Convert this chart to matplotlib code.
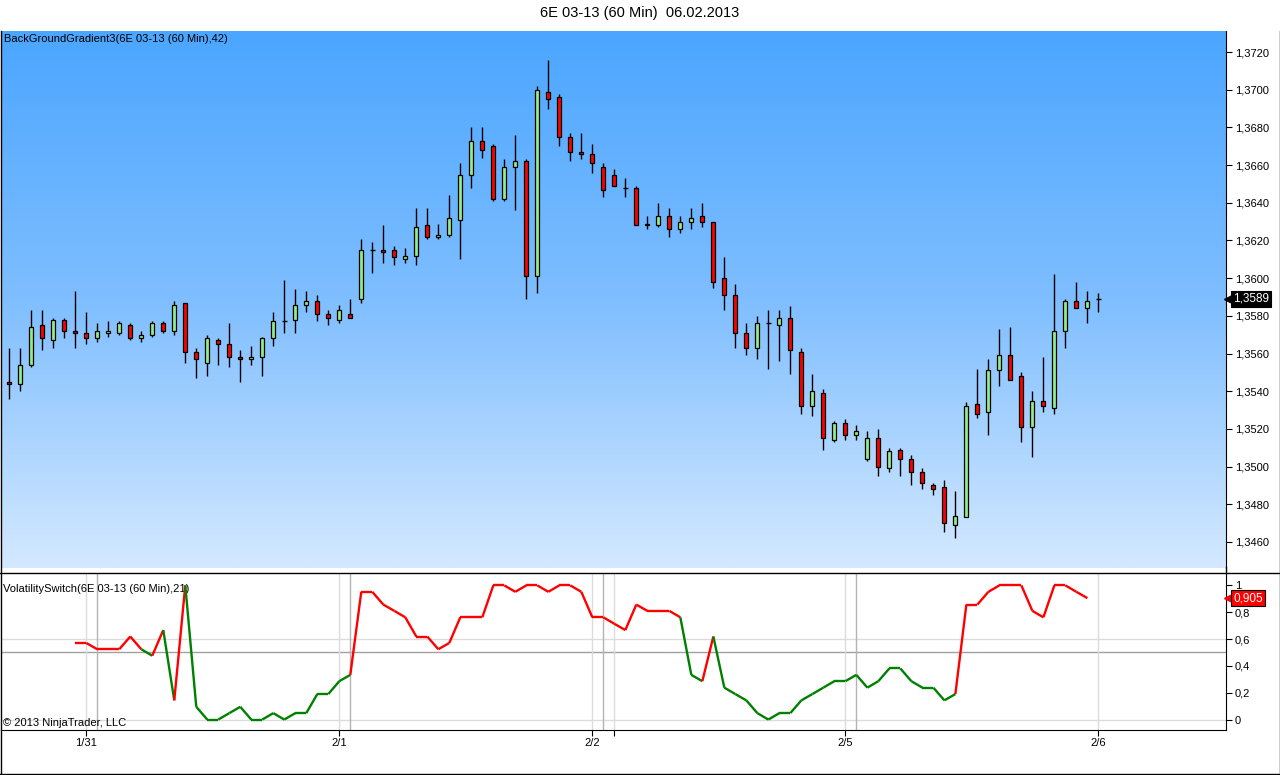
import numpy as np
import matplotlib
matplotlib.use("Agg")
from matplotlib import pyplot as plt
from matplotlib import transforms
from matplotlib.collections import LineCollection
from matplotlib.colors import LinearSegmentedColormap
from matplotlib.lines import Line2D

plt.rcParams['font.family'] = ['Liberation Sans', 'DejaVu Sans']

# 6E 03-13, 60 min bars (OHLC)
opens = [1.3545, 1.3544, 1.3554, 1.3575, 1.3567, 1.3578, 1.3572, 1.3571, 1.3568, 1.3571,
         1.3571, 1.3575, 1.3568, 1.3570, 1.3576, 1.3572, 1.3587, 1.3561, 1.3555, 1.3567,
         1.3565, 1.3558, 1.3557, 1.3558, 1.3568, 1.3577, 1.3578, 1.3586, 1.3588, 1.3581,
         1.3578, 1.3581, 1.3589, 1.3615, 1.3615, 1.3615, 1.3610, 1.3612, 1.3628, 1.3622,
         1.3623, 1.3631, 1.3655, 1.3673, 1.3670, 1.3642, 1.3659, 1.3662, 1.3601, 1.3699,
         1.3696, 1.3675, 1.3667, 1.3666, 1.3659, 1.3655, 1.3648, 1.3648, 1.3629, 1.3628,
         1.3633, 1.3626, 1.3630, 1.3633, 1.3630, 1.3600, 1.3591, 1.3571, 1.3563, 1.3576,
         1.3575, 1.3579, 1.3561, 1.3532, 1.3539, 1.3514, 1.3523, 1.3517, 1.3504, 1.3515,
         1.3499, 1.3509, 1.3504, 1.3497, 1.3490, 1.3489, 1.3469, 1.3473, 1.3533, 1.3529,
         1.3551, 1.3559, 1.3548, 1.3521, 1.3535, 1.3531, 1.3572, 1.3588, 1.3584, 1.3589]
highs = [1.3563, 1.3563, 1.3583, 1.3583, 1.3579, 1.3579, 1.3593, 1.3582, 1.3576, 1.3577,
         1.3577, 1.3576, 1.3572, 1.3577, 1.3577, 1.3588, 1.3587, 1.3563, 1.3570, 1.3568,
         1.3576, 1.3562, 1.3564, 1.3569, 1.3582, 1.3599, 1.3594, 1.3593, 1.3591, 1.3583,
         1.3586, 1.3589, 1.3621, 1.3619, 1.3628, 1.3617, 1.3616, 1.3637, 1.3637, 1.3629,
         1.3644, 1.3661, 1.3680, 1.3680, 1.3671, 1.3663, 1.3676, 1.3663, 1.3702, 1.3716,
         1.3698, 1.3677, 1.3677, 1.3671, 1.3661, 1.3658, 1.3653, 1.3649, 1.3633, 1.3640,
         1.3637, 1.3633, 1.3637, 1.3640, 1.3630, 1.3611, 1.3597, 1.3576, 1.3580, 1.3583,
         1.3583, 1.3585, 1.3563, 1.3549, 1.3541, 1.3524, 1.3525, 1.3522, 1.3519, 1.3520,
         1.3510, 1.3510, 1.3506, 1.3499, 1.3491, 1.3493, 1.3487, 1.3534, 1.3552, 1.3557,
         1.3573, 1.3574, 1.3550, 1.3540, 1.3558, 1.3602, 1.3589, 1.3598, 1.3593, 1.3592]
lows = [1.3536, 1.3540, 1.3553, 1.3562, 1.3563, 1.3568, 1.3563, 1.3565, 1.3566, 1.3569,
        1.3570, 1.3567, 1.3566, 1.3569, 1.3571, 1.3570, 1.3555, 1.3547, 1.3548, 1.3554,
        1.3553, 1.3545, 1.3554, 1.3548, 1.3564, 1.3571, 1.3571, 1.3582, 1.3577, 1.3575,
        1.3576, 1.3579, 1.3587, 1.3603, 1.3608, 1.3607, 1.3608, 1.3607, 1.3621, 1.3621,
        1.3622, 1.3610, 1.3648, 1.3664, 1.3641, 1.3641, 1.3636, 1.3589, 1.3592, 1.3690,
        1.3670, 1.3662, 1.3663, 1.3656, 1.3643, 1.3649, 1.3643, 1.3628, 1.3626, 1.3627,
        1.3622, 1.3624, 1.3626, 1.3627, 1.3595, 1.3583, 1.3563, 1.3559, 1.3557, 1.3552,
        1.3556, 1.3549, 1.3528, 1.3527, 1.3509, 1.3513, 1.3514, 1.3514, 1.3503, 1.3495,
        1.3497, 1.3495, 1.3490, 1.3488, 1.3485, 1.3465, 1.3462, 1.3473, 1.3526, 1.3517,
        1.3543, 1.3546, 1.3513, 1.3505, 1.3529, 1.3528, 1.3563, 1.3584, 1.3576, 1.3582]
closes = [1.3544, 1.3554, 1.3574, 1.3568, 1.3578, 1.3572, 1.3571, 1.3568, 1.3572, 1.3572,
          1.3576, 1.3568, 1.3570, 1.3576, 1.3572, 1.3586, 1.3561, 1.3557, 1.3568, 1.3565,
          1.3558, 1.3557, 1.3558, 1.3568, 1.3577, 1.3577, 1.3586, 1.3588, 1.3581, 1.3579,
          1.3583, 1.3579, 1.3615, 1.3615, 1.3614, 1.3611, 1.3612, 1.3627, 1.3622, 1.3623,
          1.3632, 1.3655, 1.3673, 1.3668, 1.3642, 1.3659, 1.3662, 1.3601, 1.3700, 1.3695,
          1.3675, 1.3667, 1.3666, 1.3661, 1.3647, 1.3649, 1.3648, 1.3628, 1.3628, 1.3633,
          1.3626, 1.3630, 1.3632, 1.3630, 1.3598, 1.3591, 1.3571, 1.3563, 1.3576, 1.3576,
          1.3579, 1.3562, 1.3532, 1.3540, 1.3515, 1.3523, 1.3517, 1.3519, 1.3515, 1.3500,
          1.3508, 1.3504, 1.3497, 1.3491, 1.3488, 1.3470, 1.3474, 1.3532, 1.3528, 1.3551,
          1.3559, 1.3546, 1.3521, 1.3535, 1.3532, 1.3572, 1.3588, 1.3584, 1.3588, 1.3589]

# VolatilitySwitch(21), starts at bar 6
vs_start = 6
vs_values = [0.571, 0.571, 0.524, 0.524, 0.524, 0.619, 0.524, 0.476, 0.667, 0.143,
             1.000, 0.095, 0.000, 0.000, 0.048, 0.095, 0.000, 0.000, 0.048, 0.000,
             0.048, 0.048, 0.190, 0.190, 0.286, 0.333, 0.952, 0.952, 0.857, 0.810,
             0.762, 0.619, 0.619, 0.524, 0.571, 0.762, 0.762, 0.762, 1.000, 1.000,
             0.952, 1.000, 1.000, 0.952, 1.000, 1.000, 0.952, 0.762, 0.762, 0.714,
             0.667, 0.857, 0.810, 0.810, 0.810, 0.762, 0.333, 0.286, 0.619, 0.238,
             0.190, 0.143, 0.048, 0.000, 0.048, 0.048, 0.143, 0.190, 0.238, 0.286,
             0.286, 0.333, 0.238, 0.286, 0.381, 0.381, 0.286, 0.238, 0.238, 0.143,
             0.190, 0.857, 0.857, 0.952, 1.000, 1.000, 1.000, 0.810, 0.762, 1.000,
             1.000, 0.952, 0.905]

date_pos = [7, 30, 53, 76, 99]
date_labels = ['1/31', '2/1', '2/2', '2/5', '2/6']
session_pos = [8, 31, 54, 77]
weekend_pos = [55]
price_ticks = [1.3460, 1.3480, 1.3500, 1.3520, 1.3540, 1.3560, 1.3580,
               1.3600, 1.3620, 1.3640, 1.3660, 1.3680, 1.3700, 1.3720]
vs_ticks = [0, 0.2, 0.4, 0.6, 0.8, 1]
last_price = 1.3589
last_vs = 0.905

W, H = 1280, 775
fig = plt.figure(figsize=(W / 100, H / 100), dpi=100)


def rect(x0, y0, x1, y1):
    # pixel box (top-left origin) -> figure fraction
    return [x0 / W, 1 - y1 / H, (x1 - x0) / W, (y1 - y0) / H]


def fline(x0, y0, x1, y1, **kw):
    fig.add_artist(Line2D([x0 / W, x1 / W], [1 - y0 / H, 1 - y1 / H],
                          transform=fig.transFigure, **kw))


ax = fig.add_axes(rect(1, 31, 1226, 567.5))
ax2 = fig.add_axes(rect(1, 572.5, 1226, 729.5))

# gradient background
bg = LinearSegmentedColormap.from_list('bg', ['#4ba6ff', '#7fbeff', '#d4e9ff'])
ax.imshow(np.linspace(0, 1, 256).reshape(-1, 1), cmap=bg, aspect='auto',
          extent=[0, 1, 0, 1], transform=ax.transAxes, zorder=0)

x = np.arange(len(opens))
o = np.array(opens)
h = np.array(highs)
l = np.array(lows)
c = np.array(closes)

ax.vlines(x, l, h, color='black', lw=1.0, zorder=2)
up = c > o
dn = c < o
dj = c == o
ax.bar(x[up], (c - o)[up], bottom=o[up], width=0.36, color='#90ee90',
       edgecolor='black', lw=0.9, zorder=3)
ax.bar(x[dn], (o - c)[dn], bottom=c[dn], width=0.36, color='#ff0000',
       edgecolor='black', lw=0.9, zorder=3)
ax.hlines(c[dj], x[dj] - 0.25, x[dj] + 0.25, color='black', lw=1.0, zorder=3)

ax.set_xlim(-0.75, 110.6)
ax.set_ylim(1.34464, 1.37312)
ax2.set_xlim(-0.75, 110.6)
ax2.set_ylim(-0.074, 1.096)

# indicator line, coloured by level
vs = np.array(vs_values)
vx = np.arange(vs_start, vs_start + len(vs))
segs = [[(vx[i - 1], vs[i - 1]), (vx[i], vs[i])] for i in range(1, len(vs))]
cols = ['#ff0000' if vs[i] >= 0.5 else '#008000' for i in range(1, len(vs))]
ax2.add_collection(LineCollection(segs, colors=cols, linewidths=1.7, zorder=3))

for g in [0, 0.6]:
    ax2.axhline(g, color='#dcdcdc', lw=1, zorder=1)
ax2.axhline(0.5, color='#a0a0a0', lw=1, zorder=1)
for p in date_pos + weekend_pos:
    ax2.axvline(p, color='#dcdcdc', lw=1, zorder=1)
for p in session_pos:
    ax2.axvline(p, color='#b4b4b4', lw=1, zorder=1)

# axes styling
for a in (ax, ax2):
    for s in ('top', 'left'):
        a.spines[s].set_visible(False)
    a.spines['right'].set_color('black')
    a.yaxis.tick_right()
ax.spines['bottom'].set_visible(False)
ax2.spines['bottom'].set_color('black')

ax.set_yticks(price_ticks)
ax.set_yticklabels([('%.4f' % v).replace('.', ',') for v in price_ticks])
ax.tick_params(axis='y', direction='out', length=4.3, width=0.8, labelsize=8, pad=2)
ax.tick_params(axis='x', bottom=False, labelbottom=False)

ax2.set_yticks(vs_ticks)
ax2.set_yticklabels([('%g' % v).replace('.', ',') for v in vs_ticks])
ax2.tick_params(axis='y', direction='out', length=4.3, width=0.8, labelsize=8, pad=2)
ax2.set_xticks(date_pos + weekend_pos)
ax2.set_xticklabels(date_labels + [''])
ax2.tick_params(axis='x', direction='out', length=4.3, width=0.8, labelsize=8, pad=1.5)

# last value tags on the right axis


def tag(a, y, text, fc):
    tr = transforms.blended_transform_factory(a.transAxes, a.transData)
    a.text(1.0, y, text, transform=transforms.offset_copy(tr, fig=fig, x=7, units='dots'),
           ha='left', va='center', fontsize=8.5, color='white', zorder=6, clip_on=False,
           bbox=dict(boxstyle='square,pad=0.18', fc=fc, ec='black', lw=0.8))
    a.plot([1.0], [y], marker='<', ms=10, color=fc, mec=fc,
           transform=transforms.offset_copy(tr, fig=fig, x=5, units='dots'),
           clip_on=False, zorder=5)


tag(ax, last_price, ('%.4f' % last_price).replace('.', ','), 'black')
tag(ax2, last_vs, ('%.3f' % last_vs).replace('.', ','), '#ff0000')

# texts
ax.annotate('BackGroundGradient3(6E 03-13 (60 Min),42)', xy=(0, 1), xycoords='axes fraction',
            xytext=(3, -3), textcoords='offset pixels', ha='left', va='top', fontsize=8)
ax2.annotate('VolatilitySwitch(6E 03-13 (60 Min),21)', xy=(0, 1), xycoords='axes fraction',
             xytext=(2, -12), textcoords='offset pixels', ha='left', va='top', fontsize=8,
             zorder=2)
ax2.annotate('\u00a9 2013 NinjaTrader, LLC', xy=(0, 0), xycoords='axes fraction',
             xytext=(2, 2), textcoords='offset pixels', ha='left', va='bottom', fontsize=8)
fig.text(0.5, 1 - 13 / H, '6E 03-13 (60 Min)  06.02.2013', ha='center', va='center',
         fontsize=10.5)

# frame
fline(0.5, 31, 0.5, 774, color='black', lw=1)
fline(0, 774, 1280, 774, color='black', lw=1)
fline(1279.5, 31, 1279.5, 774, color='black', lw=1)
fline(0, 572.5, 1280, 572.5, color='black', lw=1)
fline(1226, 567, 1226, 573, color='black', lw=1)

fig.savefig('out.png', dpi=100)
